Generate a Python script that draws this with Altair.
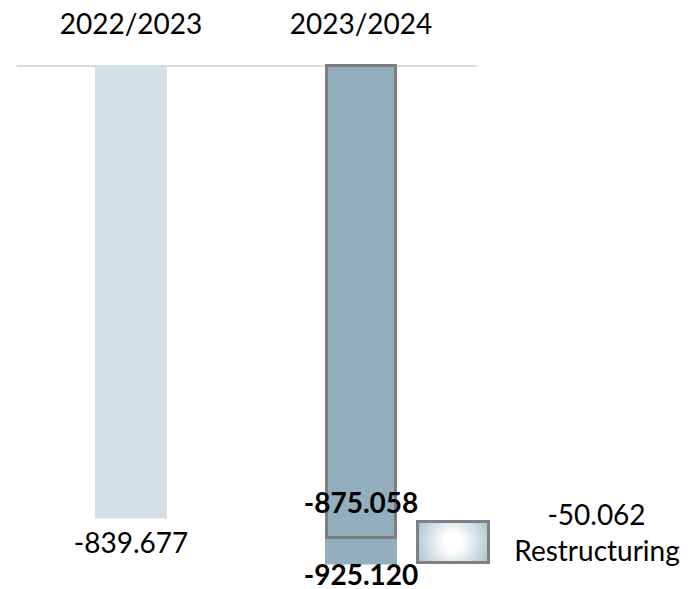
import altair as alt
import pandas as pd

# Year-end results per fiscal period
periods = ["2022/2023", "2023/2024"]
totals = [-839.677, -925.120]
bar_colors = ["#d3e0e7", "#93afbd"]

# 2023/2024 split: result before restructuring and the restructuring effect
split_period = "2023/2024"
before_restructuring = -875.058
restructuring_name = "Restructuring"
restructuring_value = -50.062

FONT = "Lato"
SIZE = 28


def fmt(v):
    return f"{v:.3f}"


bars_df = pd.DataFrame({"period": periods, "value": totals,
                        "label": [fmt(v) for v in totals]})
split_df = pd.DataFrame({"period": [split_period], "value": [before_restructuring],
                         "label": [fmt(before_restructuring)]})
legend_df = pd.DataFrame({"name": [restructuring_name],
                          "label": [fmt(restructuring_value)]})

x_scale = alt.Scale(domain=periods, range=[16, 476], paddingInner=0, paddingOuter=0)
y_scale = alt.Scale(domain=[-1000, 0], range=[605, 65.5], nice=False, zero=False)

x_enc = alt.X(
    "period:N", scale=x_scale,
    axis=alt.Axis(orient="top", offset=-65.5, title=None, ticks=False, tickSize=0,
                  labelFont=FONT, labelFontSize=SIZE, labelColor="black",
                  labelPadding=32.5, labelBaseline="alphabetic", labelAngle=0,
                  domainColor="#d9d9d9", domainWidth=2, grid=False),
)
y_enc = alt.Y("value:Q", scale=y_scale, axis=None)

bars = alt.Chart(bars_df).mark_bar(size=72).encode(
    x=x_enc,
    y=y_enc,
    y2=alt.datum(0),
    color=alt.Color("period:N", scale=alt.Scale(domain=periods, range=bar_colors), legend=None),
)

# outlined portion of 2023/2024 before restructuring
split_box = alt.Chart(split_df).mark_bar(
    size=69, fill="#93afbd", stroke="#7f7f7f", strokeWidth=3
).encode(x=alt.X("period:N", scale=x_scale), y=y_enc, y2=alt.datum(0))

label_2022 = alt.Chart(bars_df[bars_df.period == periods[0]]).mark_text(
    font=FONT, fontSize=SIZE, color="black", align="center", baseline="alphabetic", dy=34.5
).encode(x=alt.X("period:N", scale=x_scale), y=y_enc, text="label:N")

label_2023 = alt.Chart(bars_df[bars_df.period == periods[1]]).mark_text(
    font=FONT, fontSize=SIZE, fontWeight="bold", color="black", align="center",
    baseline="alphabetic", dy=20.5
).encode(x=alt.X("period:N", scale=x_scale), y=y_enc, text="label:N")

label_split = alt.Chart(split_df).mark_text(
    font=FONT, fontSize=SIZE, fontWeight="bold", color="black", align="center",
    baseline="alphabetic", dy=-25
).encode(x=alt.X("period:N", scale=x_scale), y=y_enc, text="label:N")

# legend key for the restructuring effect
swatch_fill = alt.Gradient(
    gradient="radial",
    stops=[alt.GradientStop(color="#ffffff", offset=0),
           alt.GradientStop(color="#ffffff", offset=0.2),
           alt.GradientStop(color="#9fbbc9", offset=1)],
    x1=0.5, y1=0.5, r1=0, x2=0.5, y2=0.5, r2=0.62,
)
swatch = alt.Chart(legend_df).mark_rect(
    fill=swatch_fill, stroke="#808080", strokeWidth=3
).encode(x=alt.value(417.5), x2=alt.value(488.5), y=alt.value(521.5), y2=alt.value(562.5))

legend_value = alt.Chart(legend_df).mark_text(
    font=FONT, fontSize=SIZE, color="black", align="center", baseline="alphabetic"
).encode(x=alt.value(596.5), y=alt.value(525), text="label:N")

legend_name = alt.Chart(legend_df).mark_text(
    font=FONT, fontSize=SIZE, color="black", align="center", baseline="alphabetic"
).encode(x=alt.value(597), y=alt.value(561), text="name:N")

chart = alt.layer(
    bars, split_box, label_2022, label_2023, label_split, swatch, legend_value, legend_name
).properties(
    width=691, height=589, padding=0, autosize=alt.AutoSizeParams(type="none"),
    background="white",
).configure_view(stroke=None)

chart.save("out.html", embed_options={"renderer": "svg", "actions": False})
